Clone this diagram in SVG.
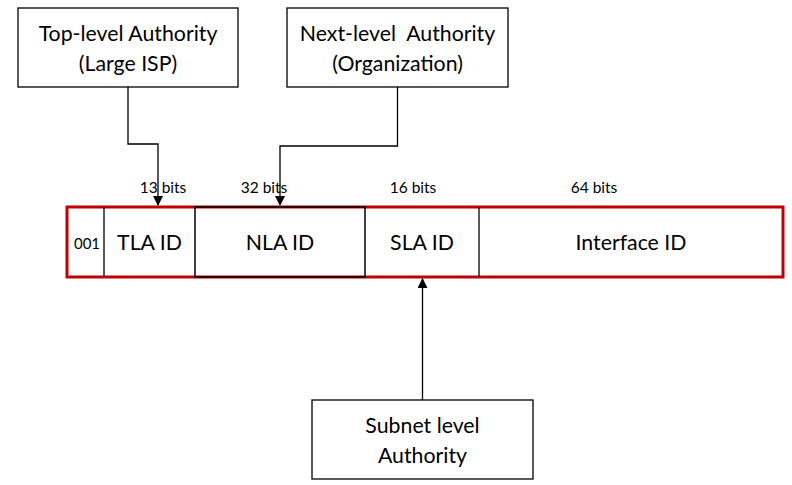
<svg xmlns="http://www.w3.org/2000/svg" width="792" height="485" viewBox="0 0 792 485">
<style>
text{font-family:Lato,"Open Sans","DejaVu Sans",sans-serif;fill:#000;text-anchor:middle}
.box{fill:#fff;stroke:#000;stroke-width:1.3}
.big{font-size:21.3px}
.bits{font-size:15.5px}
.conn{fill:none;stroke:#000;stroke-width:1.3}
</style>
<defs>
<marker id="arr" markerWidth="10" markerHeight="10" refX="9" refY="5" orient="auto" markerUnits="userSpaceOnUse">
<path d="M0,0 L10,5 L0,10 z" fill="#000"/>
</marker>
</defs>
<rect width="792" height="485" fill="#fff"/>
<g id="top-level">
<rect class="box" x="18" y="8" width="220" height="79"/>
<text class="big" x="128" y="41">Top-level Authority</text>
<text class="big" x="128" y="71">(Large ISP)</text>
</g>
<g id="next-level">
<rect class="box" x="287" y="8" width="221" height="79"/>
<text class="big" x="397.5" y="41" xml:space="preserve">Next-level  Authority</text>
<text class="big" x="397.5" y="71">(Organization)</text>
</g>
<g id="subnet-level">
<rect class="box" x="312" y="400" width="221" height="79"/>
<text class="big" x="422.5" y="433">Subnet level</text>
<text class="big" x="422.5" y="463">Authority</text>
</g>
<g id="address">
<rect x="67" y="207" width="716" height="70" fill="#fff" stroke="#C00000" stroke-width="3"/>
<line x1="104" y1="207" x2="104" y2="277" stroke="#000" stroke-width="1.3"/>
<rect x="195" y="207" width="170" height="70" fill="none" stroke="#000" stroke-width="1.5"/>
<line x1="479" y1="207" x2="479" y2="277" stroke="#000" stroke-width="1.3"/>
<text x="87" y="249" font-size="15">001</text>
<text class="big" x="149.5" y="250">TLA ID</text>
<text class="big" x="280" y="250">NLA ID</text>
<text class="big" x="422" y="250">SLA ID</text>
<text class="big" x="631" y="250">Interface ID</text>
</g>
<g id="labels">
<text class="bits" x="163" y="193">13 bits</text>
<text class="bits" x="264" y="193">32 bits</text>
<text class="bits" x="413" y="193">16 bits</text>
<text class="bits" x="594" y="193">64 bits</text>
</g>
<g id="connectors">
<polyline class="conn" points="128,87 128,144 158,144 158,205" marker-end="url(#arr)"/>
<polyline class="conn" points="397.5,87 397.5,146 280,146 280,205" marker-end="url(#arr)"/>
<line class="conn" x1="422.5" y1="400" x2="422.5" y2="279" marker-end="url(#arr)"/>
</g>
</svg>
